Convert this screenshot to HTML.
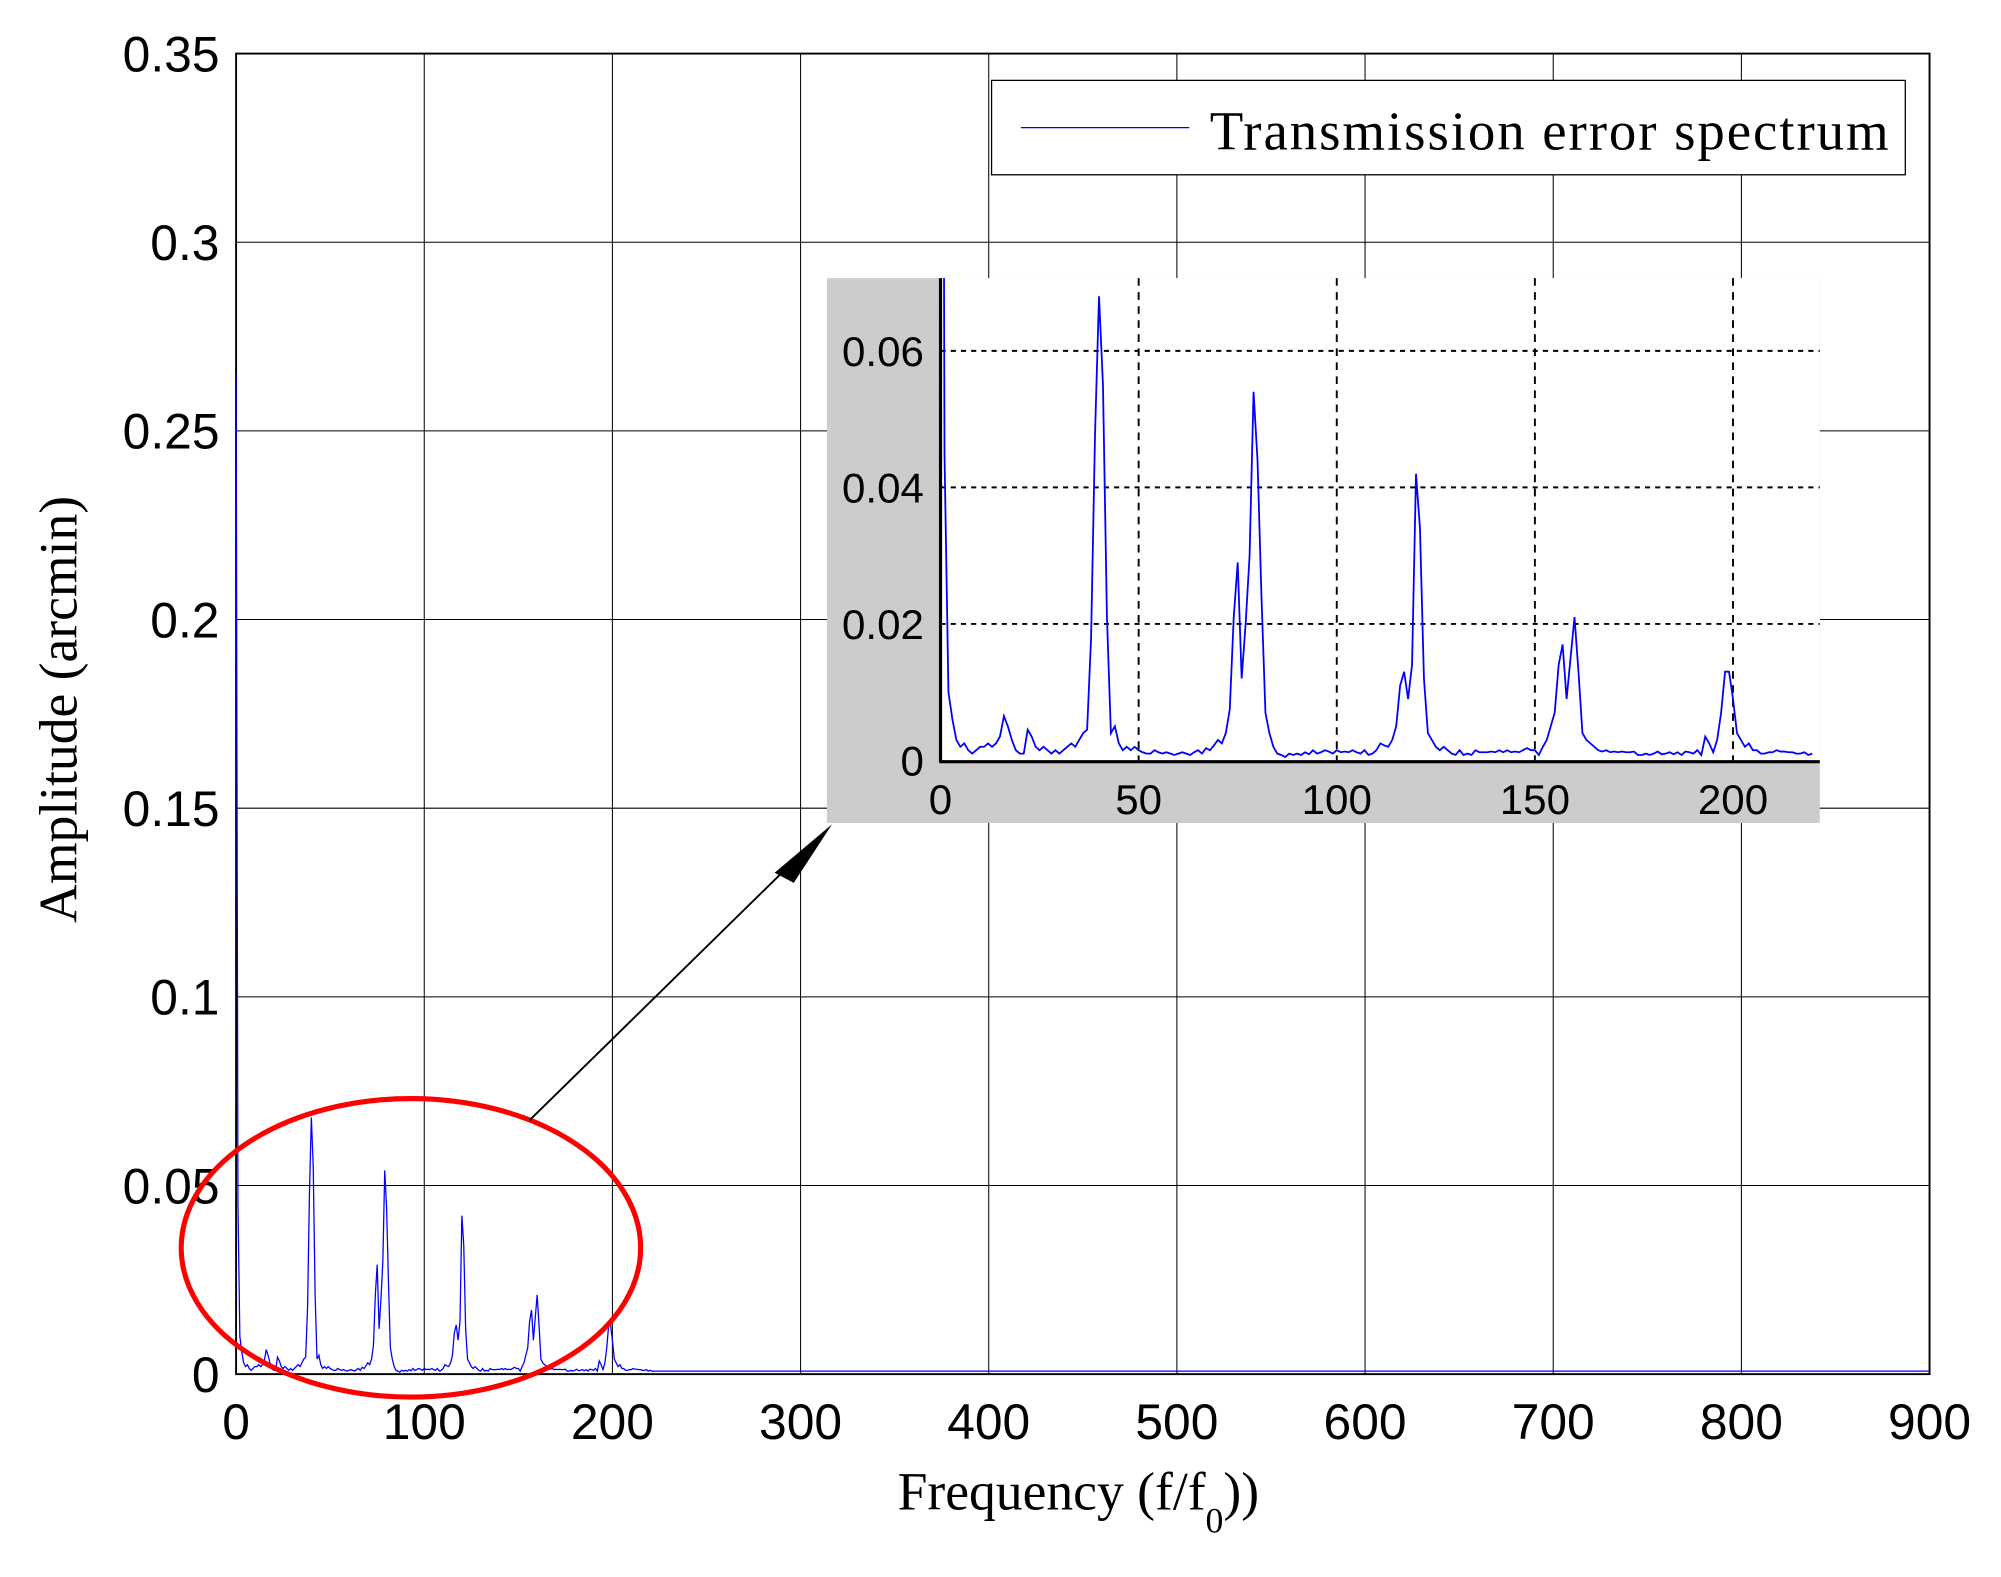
<!DOCTYPE html>
<html><head><meta charset="utf-8"><style>
html,body{margin:0;padding:0;background:#fff;}
svg{display:block;}
</style></head><body>
<svg id="chart" width="2001" height="1577" viewBox="0 0 1568 1236" preserveAspectRatio="none" xmlns="http://www.w3.org/2000/svg">
<defs>
<clipPath id="mainClip"><rect x="185" y="42" width="1327" height="1036"/></clipPath>
<clipPath id="insetClip"><rect x="737" y="218" width="689" height="378"/></clipPath>
</defs>
<rect x="0" y="0" width="1568" height="1236" fill="#fff"/>
<g id="main"></g>
<g id="inset"></g>
</svg>
<script>
const amp = [0.265,0.045,0.01,0.006,0.003,0.002,0.0025,0.0015,0.001,0.0015,0.002,0.002,0.0025,0.002,0.0025,0.0035,0.0065,0.005,0.003,0.0015,0.001,0.001,0.0045,0.0035,0.002,0.0015,0.002,0.0015,0.001,0.0015,0.001,0.0015,0.002,0.0025,0.002,0.003,0.004,0.0045,0.018,0.048,0.068,0.055,0.021,0.004,0.005,0.0025,0.0015,0.002,0.0015,0.002,0.0015,
0.0012,0.001,0.001,0.0015,0.0012,0.001,0.0012,0.001,0.0008,0.001,0.0012,0.001,0.0008,0.0012,0.0015,0.001,0.0018,0.0015,0.0022,0.003,0.0025,0.004,0.0075,0.021,0.029,0.012,0.02,0.03,0.054,0.044,0.024,0.007,0.004,0.002,0.001,0.0008,0.0005,0.001,0.0008,0.001,0.0008,0.0012,0.0009,0.0015,0.001,0.0012,0.0015,0.0013,0.001,0.0015,
0.0012,0.0013,0.0012,0.0015,0.0012,0.001,0.0015,0.0008,0.001,0.0015,0.0025,0.0022,0.002,0.003,0.005,0.011,0.013,0.009,0.014,0.042,0.034,0.012,0.004,0.003,0.002,0.0015,0.002,0.0015,0.001,0.0008,0.0015,0.0008,0.001,0.0008,0.0015,0.0012,0.0012,0.0012,0.0013,0.0012,0.0015,0.0012,0.0015,0.0012,0.0013,0.0012,0.0015,0.0018,0.0015,0.0015,
0.0008,0.002,0.003,0.005,0.007,0.014,0.017,0.009,0.015,0.021,0.013,0.004,0.003,0.0025,0.002,0.0015,0.0013,0.0015,0.0012,0.0013,0.0012,0.0013,0.0012,0.0012,0.0013,0.0008,0.0008,0.001,0.0008,0.001,0.0013,0.0009,0.001,0.0012,0.0009,0.0012,0.0008,0.0013,0.0012,0.001,0.0015,0.0008,0.0035,0.0025,0.0012,0.003,0.007,0.013,0.013,0.009,
0.004,0.003,0.002,0.0025,0.0015,0.0015,0.001,0.001,0.0012,0.0012,0.0015,0.0013,0.0013,0.0012,0.0012,0.001,0.001,0.0012,0.0008,0.001];
const tailFreq = [221, 900];
const tailAmp = [0.0008, 0.0008];
const mainXTicks = [0,100,200,300,400,500,600,700,800,900];
const mainYTicks = [0,0.05,0.1,0.15,0.2,0.25,0.3,0.35];
const mainYLabels = ["0","0.05","0.1","0.15","0.2","0.25","0.3","0.35"];
const insetXTicks = [0,50,100,150,200];
const insetYTicks = [0,0.02,0.04,0.06];
const insetYLabels = ["0","0.02","0.04","0.06"];

const NS="http://www.w3.org/2000/svg";
function mk(parent,tag,attrs,text){const e=document.createElementNS(NS,tag);for(const k in attrs)e.setAttribute(k,attrs[k]);if(text!==undefined)e.textContent=text;parent.appendChild(e);return e;}
const svg=document.getElementById('chart');
const gm=document.getElementById('main');
const gi=document.getElementById('inset');
const mx=v=>185+(v/900)*1327;
const my=v=>1077-(v/0.35)*1035;
mainXTicks.forEach(t=>{
  const l=mk(gm,'line',{x1:mx(t),x2:mx(t),y1:42,y2:1077,stroke:'#000','stroke-width':0.8});
  
  
  const tx=mk(gm,'text',{x:mx(t),y:1128,'font-family':'Liberation Sans, sans-serif','font-size':39,'text-anchor':'middle'},String(t));
  
  
});
mainYTicks.forEach((t,i)=>{
  const l=mk(gm,'line',{x1:185,x2:1512,y1:my(t),y2:my(t),stroke:'#000','stroke-width':0.8});
  
  
  const tx=mk(gm,'text',{x:172,y:my(t)+14,'font-family':'Liberation Sans, sans-serif','font-size':39,'text-anchor':'end'},mainYLabels[i]);
  
  
});
const box=mk(gm,'rect',{x:185,y:42,width:1327,height:1035,fill:'none',stroke:'#000','stroke-width':1.5});


let pts=amp.map((v,i)=>mx(i).toFixed(2)+','+my(v).toFixed(2));
tailFreq.forEach((f,i)=>pts.push(mx(f).toFixed(2)+','+my(tailAmp[i]).toFixed(2)));
const ms=mk(gm,'polyline',{points:pts.join(' '),fill:'none',stroke:'#0000ff','stroke-width':1,'clip-path':'url(#mainClip)'});


const xt=mk(gm,'text',{x:845,y:1183,'font-family':'Liberation Serif, serif','font-size':42,'text-anchor':'middle'});


xt.innerHTML='Frequency (f/f<tspan dy="18" font-size="28">0</tspan><tspan dy="-18">))</tspan>';
const yt=mk(gm,'text',{x:0,y:0,transform:'translate(60,556) rotate(-90)','font-family':'Liberation Serif, serif','font-size':42,'text-anchor':'middle'},'Amplitude (arcmin)');


const lg=mk(gm,'g',{});


mk(lg,'rect',{x:777,y:63,width:716,height:74,fill:'#fff',stroke:'#000','stroke-width':1});
const le=mk(lg,'line',{x1:800,x2:932,y1:100,y2:100,stroke:'#0000ff','stroke-width':1});


const lt=mk(lg,'text',{x:948,y:117,'font-family':'Liberation Serif, serif','font-size':43,'textLength':532},'Transmission error spectrum');


const ix=v=>737+v*3.105;
const iy=v=>596-v*5350;
const bg=mk(gi,'rect',{x:648,y:218,width:778,height:427,fill:'#cccccc'});


mk(gi,'rect',{x:737,y:218,width:689,height:378,fill:'#fff'});
insetXTicks.forEach(t=>{
  if(t>0){const l=mk(gi,'line',{x1:ix(t),x2:ix(t),y1:218,y2:596,stroke:'#000','stroke-width':1.5,'stroke-dasharray':'6,5'});
  
  }
  const tx=mk(gi,'text',{x:ix(t),y:638,'font-family':'Liberation Sans, sans-serif','font-size':33,'text-anchor':'middle'},String(t));
  
  
});
insetYTicks.forEach((t,i)=>{
  if(t>0){const l=mk(gi,'line',{x1:737,x2:1426,y1:iy(t),y2:iy(t),stroke:'#000','stroke-width':1.5,'stroke-dasharray':'4,4'});
  
  }
  const tx=mk(gi,'text',{x:724,y:iy(t)+12,'font-family':'Liberation Sans, sans-serif','font-size':33,'text-anchor':'end'},insetYLabels[i]);
  
  
});
const ipts=amp.map((v,i)=>ix(i).toFixed(2)+','+iy(v).toFixed(2)).join(' ');
const isr=mk(gi,'polyline',{points:ipts,fill:'none',stroke:'#0000ff','stroke-width':1.4,'clip-path':'url(#insetClip)'});


mk(gi,'line',{x1:737,x2:737,y1:218,y2:597,stroke:'#000','stroke-width':2.5});
mk(gi,'line',{x1:736,x2:1426,y1:597,y2:597,stroke:'#000','stroke-width':2.5});
const el=mk(svg,'ellipse',{cx:322,cy:978,rx:180,ry:117,fill:'none',stroke:'#ff0000','stroke-width':4});


const ar=mk(svg,'line',{x1:415,y1:878,x2:625,y2:672,stroke:'#000','stroke-width':1.5});


const ah=mk(svg,'polygon',{points:'652,646 607,684 622,692',fill:'#000'});


</script>
</body></html>
